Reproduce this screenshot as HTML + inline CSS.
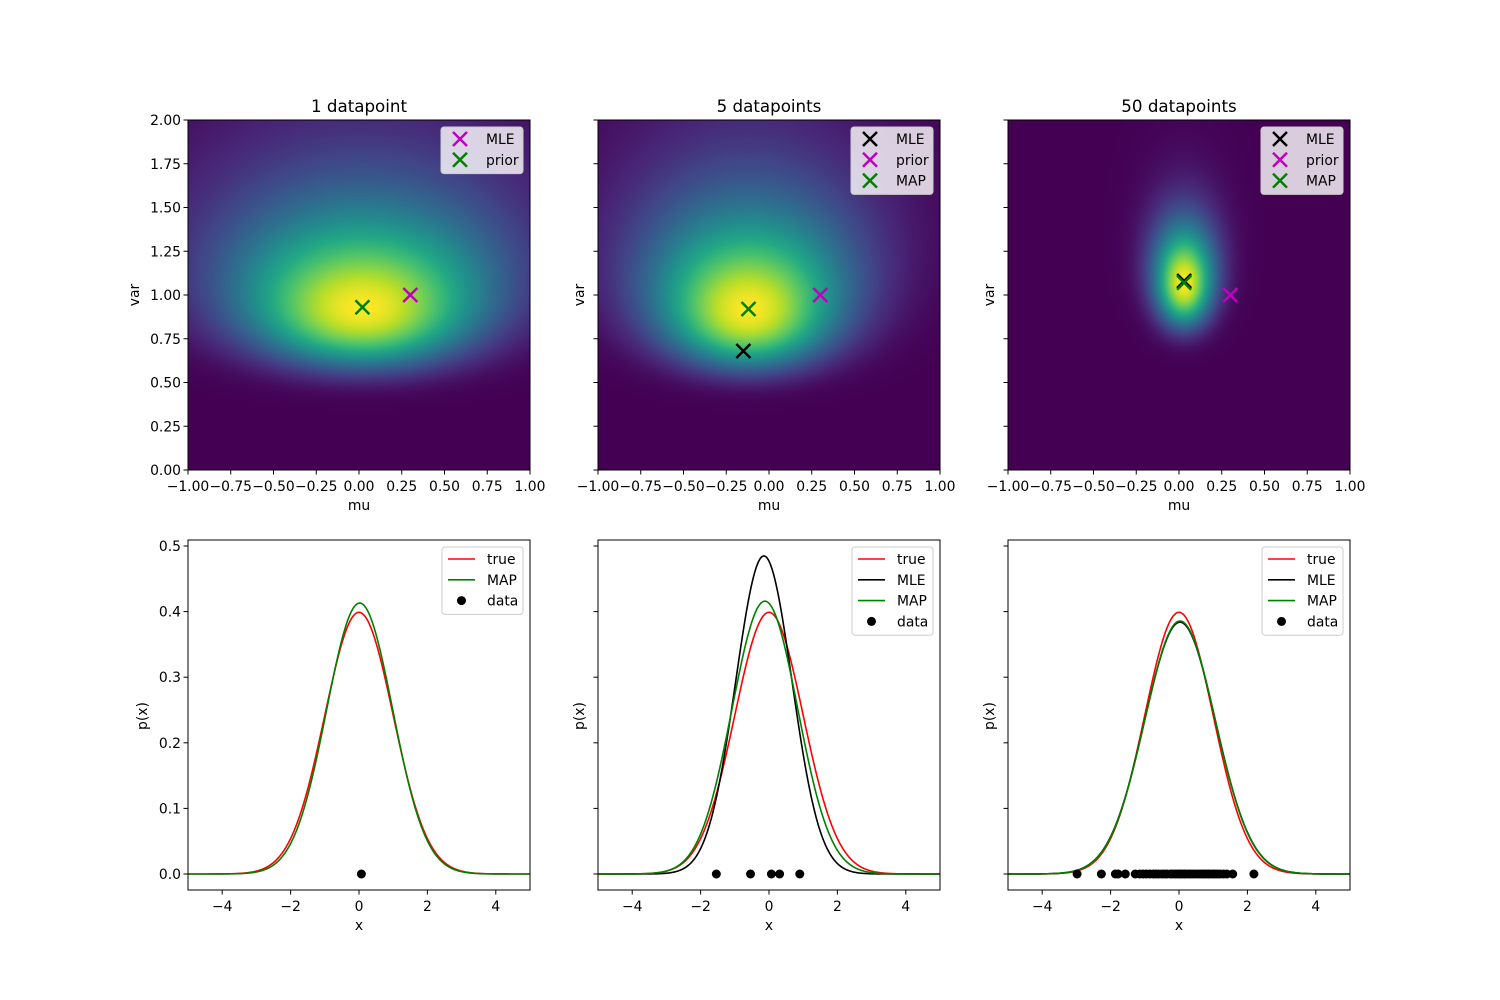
<!DOCTYPE html>
<html><head><meta charset="utf-8">
<style>
body{margin:0;background:#fff;}
#wrap{position:relative;width:1500px;height:1000px;overflow:hidden;}
canvas{position:absolute;}
svg{position:absolute;left:0;top:0;}
text{font-family:"DejaVu Sans","Liberation Sans",sans-serif;fill:#000;}
</style></head>
<body>
<div id="wrap">
<canvas id="h0" width="342" height="350" style="left:188px;top:120px"></canvas>
<canvas id="h1" width="342" height="350" style="left:598px;top:120px"></canvas>
<canvas id="h2" width="342" height="350" style="left:1008px;top:120px"></canvas>
<svg id="svg" width="1500" height="1000"></svg>
</div>
<script>
// ---- data ----
const titles = ["1 datapoint","5 datapoints","50 datapoints"];
const panelLeft = [188,598,1008];
// posterior heatmap params per panel: mode mu, mode var, shape c, precision kappa
const postMu = [0.02,-0.12,0.03];
const postVar = [0.93,0.92,1.07];
const postShape = [9,9,28];
const postKappa = [3.5,6,70];
// markers
const mleMu = [0.30,-0.15,0.03];
const mleVar = [1.00,0.68,1.08];
const priorMu = [0.02,0.30,0.30];
const priorVar = [0.93,1.00,1.00];
const mapMu = [null,-0.12,0.03];
const mapVar = [null,0.92,1.07];
// density curves
const trueMu = 0, trueVar = 1;
const curveMleMu = [null,-0.15,0.03];
const curveMleVar = [null,0.677,1.08];
const curveMapMu = [0.02,-0.12,0.03];
const curveMapVar = [0.933,0.92,1.07];
const data1 = [0.07];
const data5 = [-1.54,-0.54,0.07,0.31,0.9];
const data50 = [-2.98,-2.27,-1.86,-1.78,-1.57,-1.28,-1.15,-1.05,-0.95,-0.85,-0.75,-0.68,-0.6,-0.5,-0.42,-0.35,-0.25,-0.18,-0.1,-0.03,0.02,0.08,0.15,0.2,0.28,0.35,0.42,0.5,0.58,0.65,0.72,0.78,0.85,0.9,0.98,1.05,1.12,1.2,1.3,1.4,1.57,2.19];
const dataSets = [data1,data5,data50];
const muTicks = [-1,-0.75,-0.5,-0.25,0,0.25,0.5,0.75,1];
const varTicks = [0,0.25,0.5,0.75,1,1.25,1.5,1.75,2];
const xTicks = [-4,-2,0,2,4];
const pTicks = [0,0.1,0.2,0.3,0.4,0.5];

// ---- viridis ----
const vir = [[68,1,84],[72,36,117],[65,68,135],[53,95,141],[42,120,142],[33,145,140],[34,168,132],[68,191,112],[122,209,81],[189,223,38],[253,231,37]];
function viridis(t){t=Math.max(0,Math.min(1,t));const s=t*10,i=Math.min(9,Math.floor(s)),f=s-i;const a=vir[i],b=vir[i+1];return [a[0]+(b[0]-a[0])*f,a[1]+(b[1]-a[1])*f,a[2]+(b[2]-a[2])*f];}

const W=342,H=350;
const muX=(p,m)=>panelLeft[p]+(m+1)/2*W;
const varY=v=>470-v/2*H;
const xX=(p,x)=>panelLeft[p]+(x+5)/10*W;
const pY=v=>874-v*656;

// heatmaps
for(let p=0;p<3;p++){
  const ctx=document.getElementById('h'+p).getContext('2d');
  const img=ctx.createImageData(W,H);
  const m=postMu[p],v0=postVar[p],c=postShape[p],k=postKappa[p];
  for(let j=0;j<H;j++){
    const v=Math.max(1e-3,(H-j-0.5)/H*2);
    for(let i=0;i<W;i++){
      const mu=-1+(i+0.5)/W*2;
      const lg=-c*Math.log(v/v0)-c*(v0/v-1)-k*(mu-m)*(mu-m)/(2*v);
      const col=viridis(Math.exp(lg));
      const o=(j*W+i)*4;img.data[o]=col[0];img.data[o+1]=col[1];img.data[o+2]=col[2];img.data[o+3]=255;
    }
  }
  ctx.putImageData(img,0,0);
}

const svg=document.getElementById('svg');
const NS='http://www.w3.org/2000/svg';
function el(tag,attrs,parent){const e=document.createElementNS(NS,tag);for(const k in attrs)e.setAttribute(k,attrs[k]);(parent||svg).appendChild(e);return e;}
function txt(x,y,s,size,anchor,parent){const t=el('text',{x:x,y:y,'font-size':size,'text-anchor':anchor||'middle'},parent);t.textContent=s;return t;}
function cross(x,y,color,parent){const g=el('g',{stroke:color,'stroke-width':2.5},parent);el('line',{x1:x-7,y1:y-7,x2:x+7,y2:y+7},g);el('line',{x1:x-7,y1:y+7,x2:x+7,y2:y-7},g);return g;}
function fmt(v){return (v<0?'\u2212':'')+Math.abs(v).toFixed(2);}
function fmt0(v){return (v<0?'\u2212':'')+Math.abs(v);}
function gauss(x,m,v){return Math.exp(-(x-m)*(x-m)/(2*v))/Math.sqrt(2*Math.PI*v);}

for(let p=0;p<3;p++){
  const L=panelLeft[p];
  const gt=el('g',{});
  
  
  txt(L+W/2,112,titles[p],16.7,'middle',gt);
  el('rect',{x:L,y:120,width:W,height:H,fill:'none',stroke:'#000','stroke-width':1},gt);
  for(const t of muTicks){const x=muX(p,t);el('line',{x1:x,y1:470,x2:x,y2:474.5,stroke:'#000'},gt);txt(x,491,fmt(t),13.9,'middle',gt);}
  for(const t of varTicks){const y=varY(t);el('line',{x1:L-4.5,y1:y,x2:L,y2:y,stroke:'#000'},gt);if(p===0)txt(L-7,y+5,t.toFixed(2),13.9,'end',gt);}
  txt(L+W/2,510,'mu',13.9,'middle',gt);
  const vt=txt(0,0,'var',13.9,'middle',gt);vt.setAttribute('transform','translate('+(p===0?139:(L-14))+',295) rotate(-90)');
  
  const items=[];
  if(p===0){cross(muX(p,mleMu[p]),varY(mleVar[p]),'#bf00bf',gt);cross(muX(p,priorMu[p]),varY(priorVar[p]),'green',gt);items.push(['MLE','#bf00bf'],['prior','green']);}
  else{cross(muX(p,mleMu[p]),varY(mleVar[p]),'#000',gt);cross(muX(p,priorMu[p]),varY(priorVar[p]),'#bf00bf',gt);cross(muX(p,mapMu[p]),varY(mapVar[p]),'green',gt);items.push(['MLE','#000'],['prior','#bf00bf'],['MAP','green']);}
  const lg=el('g',{},gt);
  const lx=L+W-89,lw=82;
  el('rect',{x:lx,y:127,width:lw,height:items.length*20.8+5,rx:3,fill:'rgba(255,255,255,0.8)',stroke:'#ccc'},lg);
  items.forEach((it,i)=>{const y=139+i*20.8;cross(lx+19,y,it[1],lg);txt(lx+45,y+5,it[0],13.9,'start',lg);});

  const gb=el('g',{});
  
  
  const clipId='c'+p;const cp=el('clipPath',{id:clipId},gb);el('rect',{x:L,y:540,width:W,height:350},cp);
  const cg=el('g',{'clip-path':'url(#'+clipId+')'},gb);
  function curve(m,v,color,name){let d='';for(let i=0;i<=400;i++){const x=-5+i/40;d+=(i?'L':'M')+xX(p,x).toFixed(2)+','+pY(gauss(x,m,v)).toFixed(2);}const path=el('path',{d:d,fill:'none',stroke:color,'stroke-width':1.6},cg);}
  curve(trueMu,trueVar,'red','true-curve');
  if(p>0)curve(curveMleMu[p],curveMleVar[p],'#000','mle-curve');
  curve(curveMapMu[p],curveMapVar[p],'green','map-curve');
  for(const d of dataSets[p]){const c=el('circle',{cx:xX(p,d),cy:pY(0),r:4.5,fill:'#000'},cg);}
  el('rect',{x:L,y:540,width:W,height:350,fill:'none',stroke:'#000'},gb);
  for(const t of xTicks){const x=xX(p,t);el('line',{x1:x,y1:890,x2:x,y2:894.5,stroke:'#000'},gb);txt(x,911,fmt0(t),13.9,'middle',gb);}
  for(const t of pTicks){const y=pY(t);el('line',{x1:L-4.5,y1:y,x2:L,y2:y,stroke:'#000'},gb);if(p===0)txt(L-7,y+5,t.toFixed(1),13.9,'end',gb);}
  txt(L+W/2,930,'x',13.9,'middle',gb);
  const pt=txt(0,0,'p(x)',13.9,'middle',gb);pt.setAttribute('transform','translate('+(p===0?147:(L-14))+',716) rotate(-90)');
  
  const bi=p===0?[['true','red','l'],['MAP','green','l'],['data','#000','d']]:[['true','red','l'],['MLE','#000','l'],['MAP','green','l'],['data','#000','d']];
  const bl=el('g',{},gb);
  const bx=L+W-88,bw=81;
  el('rect',{x:bx,y:547,width:bw,height:bi.length*20.8+5,rx:3,fill:'rgba(255,255,255,0.8)',stroke:'#ccc'},bl);
  bi.forEach((it,i)=>{const y=559+i*20.8;if(it[2]==='l')el('line',{x1:bx+6,y1:y,x2:bx+33,y2:y,stroke:it[1],'stroke-width':1.6},bl);else el('circle',{cx:bx+19.5,cy:y,r:4.5,fill:'#000'},bl);txt(bx+45,y+5,it[0],13.9,'start',bl);});
}
</script>
</body></html>
